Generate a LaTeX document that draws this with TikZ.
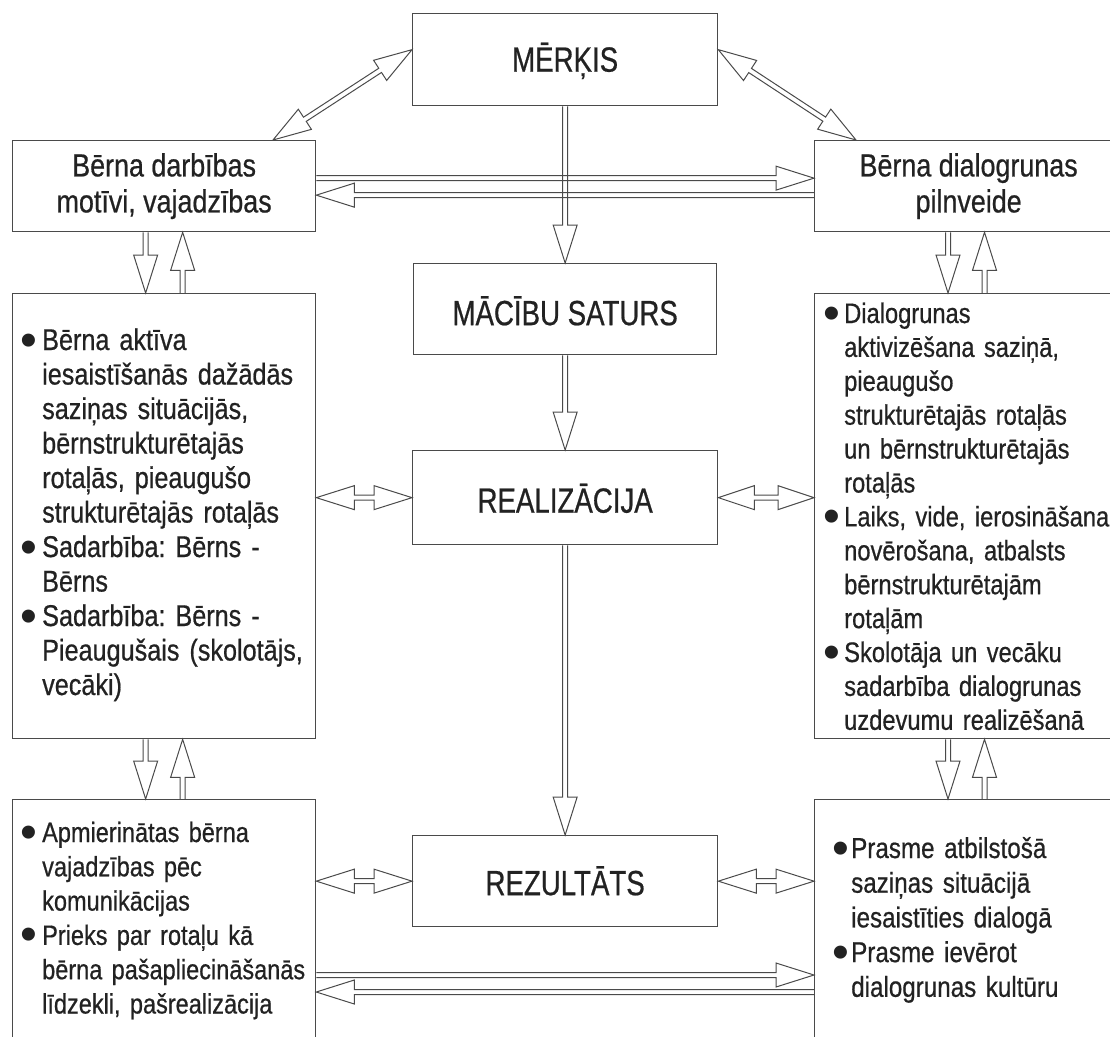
\documentclass[tikz,border=0pt]{standalone}
\usepackage{fontspec}
\setmainfont{Liberation Sans}[FakeStretch=0.84, FakeBold=0.6]
\newfontfamily\titlefont{Liberation Sans}[FakeStretch=0.79, FakeBold=0.6]
\newfontfamily\bulfont{Liberation Sans}
\usetikzlibrary{calc}
\definecolor{ln}{HTML}{4A4A4A}
\definecolor{tx}{HTML}{222222}
\frenchspacing
\newcommand{\fT}{\titlefont\fontsize{35}{42}\selectfont}
\newcommand{\bul}[1]{\makebox[#1][l]{\hspace*{-1.5pt}\raisebox{-6pt}[0pt][0pt]{\bulfont\fontsize{48}{0}\selectfont\textbullet}}}
\newcommand{\ind}[1]{\hspace*{#1}}
% single-headed hollow arrow: start #1, tip #2
\newcommand{\sarr}[2]{%
  \coordinate (hb) at ($(#2)!38pt!(#1)$);
  \draw[arr] ($(#1)!2.5pt!90:(#2)$) -- ($(hb)!2.5pt!90:(#2)$) -- ($(hb)!12pt!90:(#2)$) -- (#2)
    -- ($(hb)!12pt!-90:(#2)$) -- ($(hb)!2.5pt!-90:(#2)$) -- ($(#1)!2.5pt!-90:(#2)$);
}
% double-headed hollow arrow: tips #1 and #2
\newcommand{\darr}[3]{%
  \coordinate (ha) at ($(#1)!#3!(#2)$);
  \coordinate (hb) at ($(#2)!#3!(#1)$);
  \draw[arr] (#1) -- ($(ha)!12pt!90:(#2)$) -- ($(ha)!2.5pt!90:(#2)$) -- ($(hb)!2.5pt!-90:(#1)$)
    -- ($(hb)!12pt!-90:(#1)$) -- (#2) -- ($(hb)!12pt!90:(#1)$) -- ($(hb)!2.5pt!90:(#1)$)
    -- ($(ha)!2.5pt!-90:(#2)$) -- ($(ha)!12pt!-90:(#2)$) -- cycle;
}
\begin{document}
\begin{tikzpicture}[x=1pt,y=-1pt,
  box/.style={draw=ln, line width=1.3pt, inner sep=0pt, anchor=north west, text=tx},
  ttl/.style={font=\fT, text height=24pt, text depth=0pt},
  topt/.style={font=\fontsize{32}{36}\selectfont, align=center},
  txt/.style={inner sep=0pt, anchor=base west, align=left, text=tx},
  arr/.style={draw=ln, line width=1pt, line join=miter}]
\useasboundingbox (0,0) rectangle (1110,1036);
\clip (0,0) rectangle (1110,1036);
\fill[white] (0,0) rectangle (1110,1036);

% boxes
\node[box, ttl, minimum width=305pt, minimum height=92pt] (merkis) at (412,13) {MĒRĶIS};
\node[box, topt, minimum width=303pt, minimum height=91pt] (topL) at (12,140) {Bērna darbības\\motīvi, vajadzības};
\node[box, topt, minimum width=308pt, minimum height=91pt] (topR) at (814,140) {Bērna dialogrunas\\pilnveide};
\node[box, ttl, minimum width=303pt, minimum height=91pt] (saturs) at (413,263) {\raisebox{-4pt}{MĀCĪBU SATURS}};
\node[box, ttl, minimum width=305pt, minimum height=94pt] (realiz) at (412,450) {\raisebox{-3pt}{REALIZĀCIJA}};
\node[box, ttl, minimum width=305pt, minimum height=91pt] (rez) at (412,835) {\raisebox{-2pt}{REZULTĀTS}};
\node[box, minimum width=303pt, minimum height=445pt] (bigL) at (12,293) {};
\node[box, minimum width=308pt, minimum height=445pt] (bigR) at (814,293) {};
\node[box, minimum width=303pt, minimum height=260pt] (botL) at (12,799) {};
\node[box, minimum width=308pt, minimum height=260pt] (botR) at (814,799) {};

% texts in the list boxes
\node[txt, text width=292pt, font=\fontsize{30}{34.5}\selectfont] (tL) at (22,350) {%
\bul{20pt}Bērna aktīva\\
\ind{20pt}iesaistīšanās dažādās\\
\ind{20pt}saziņas situācijās,\\
\ind{20pt}bērnstrukturētajās\\
\ind{20pt}rotaļās, pieaugušo\\
\ind{20pt}strukturētajās rotaļās\\
\bul{20pt}Sadarbība: Bērns -\\
\ind{20pt}Bērns\\
\bul{20pt}Sadarbība: Bērns -\\
\ind{20pt}Pieaugušais (skolotājs,\\
\ind{20pt}vecāki)};
\node[txt, text width=290pt, font=\fontsize{28.2}{33.9}\selectfont] (tR) at (825,323) {%
\bul{19pt}Dialogrunas\\
\ind{19pt}aktivizēšana saziņā,\\
\ind{19pt}pieaugušo\\
\ind{19pt}strukturētajās rotaļās\\
\ind{19pt}un bērnstrukturētajās\\
\ind{19pt}rotaļās\\
\bul{19pt}Laiks, vide, ierosināšana\\
\ind{19pt}novērošana, atbalsts\\
\ind{19pt}bērnstrukturētajām\\
\ind{19pt}rotaļām\\
\bul{19pt}Skolotāja un vecāku\\
\ind{19pt}sadarbība dialogrunas\\
\ind{19pt}uzdevumu realizēšanā};
\node[txt, text width=292pt, font=\fontsize{28}{34.3}\selectfont] (bL) at (22,842) {%
\bul{20pt}Apmierinātas bērna\\
\ind{20pt}vajadzības pēc\\
\ind{20pt}komunikācijas\\
\bul{20pt}Prieks par rotaļu kā\\
\ind{20pt}bērna pašapliecināšanās\\
\ind{20pt}līdzekli, pašrealizācija};
\node[txt, text width=270pt, font=\fontsize{28.8}{34.7}\selectfont] (bR) at (834,858) {%
\bul{17pt}Prasme atbilstošā\\
\ind{17pt}saziņas situācijā\\
\ind{17pt}iesaistīties dialogā\\
\bul{17pt}Prasme ievērot\\
\ind{17pt}dialogrunas kultūru};

% diagonal double arrows
\coordinate (dL1) at ($(merkis.west)+(0,-10)$);
\coordinate (dL2) at ($(topL.north west)+(261,0)$);
\darr{dL1}{dL2}{38pt}
\coordinate (dR1) at ($(merkis.east)+(0,-10)$);
\coordinate (dR2) at ($(topR.north west)+(42,0)$);
\darr{dR1}{dR2}{38pt}

% top horizontal pair
\coordinate (h1s) at ($(topL.east)+(0,-8)$);
\coordinate (h1e) at (h1s -| topR.west);
\sarr{h1s}{h1e}
\coordinate (h2s) at ($(topR.west)+(0,9)$);
\coordinate (h2e) at (h2s -| topL.east);
\sarr{h2s}{h2e}

% bottom horizontal pair
\coordinate (h3s) at ($(botL.north east)+(0,176)$);
\coordinate (h3e) at (h3s -| botR.west);
\sarr{h3s}{h3e}
\coordinate (h4s) at ($(botR.north west)+(0,193)$);
\coordinate (h4e) at (h4s -| botL.east);
\sarr{h4s}{h4e}

% central column
\sarr{merkis.south}{saturs.north}
\sarr{saturs.south}{realiz.north}
\sarr{realiz.south}{rez.north}

% side double arrows
\darr{realiz.west -| bigL.east}{realiz.west}{38pt}
\darr{realiz.east}{realiz.east -| bigR.west}{36pt}
\darr{rez.west -| botL.east}{rez.west}{38pt}
\darr{rez.east}{rez.east -| botR.west}{38pt}

% left vertical pairs
\coordinate (v1s) at ($(topL.south)+(-18.5,0)$);
\coordinate (v1e) at ($(bigL.north)+(-18.5,0)$);
\sarr{v1s}{v1e}
\coordinate (v2s) at ($(bigL.north)+(18.5,0)$);
\coordinate (v2e) at ($(topL.south)+(18.5,0)$);
\sarr{v2s}{v2e}
\coordinate (v3s) at ($(bigL.south)+(-18.5,0)$);
\coordinate (v3e) at ($(botL.north)+(-18.5,0)$);
\sarr{v3s}{v3e}
\coordinate (v4s) at ($(botL.north)+(18.5,0)$);
\coordinate (v4e) at ($(bigL.south)+(18.5,0)$);
\sarr{v4s}{v4e}

% right vertical pairs
\coordinate (w1s) at ($(topR.south west)+(134,0)$);
\coordinate (w1e) at ($(bigR.north west)+(134,0)$);
\sarr{w1s}{w1e}
\coordinate (w2s) at ($(bigR.north west)+(170.5,0)$);
\coordinate (w2e) at ($(topR.south west)+(170.5,0)$);
\sarr{w2s}{w2e}
\coordinate (w3s) at ($(bigR.south west)+(134,0)$);
\coordinate (w3e) at ($(botR.north west)+(134,0)$);
\sarr{w3s}{w3e}
\coordinate (w4s) at ($(botR.north west)+(170.5,0)$);
\coordinate (w4e) at ($(bigR.south west)+(170.5,0)$);
\sarr{w4s}{w4e}
\end{tikzpicture}
\end{document}
